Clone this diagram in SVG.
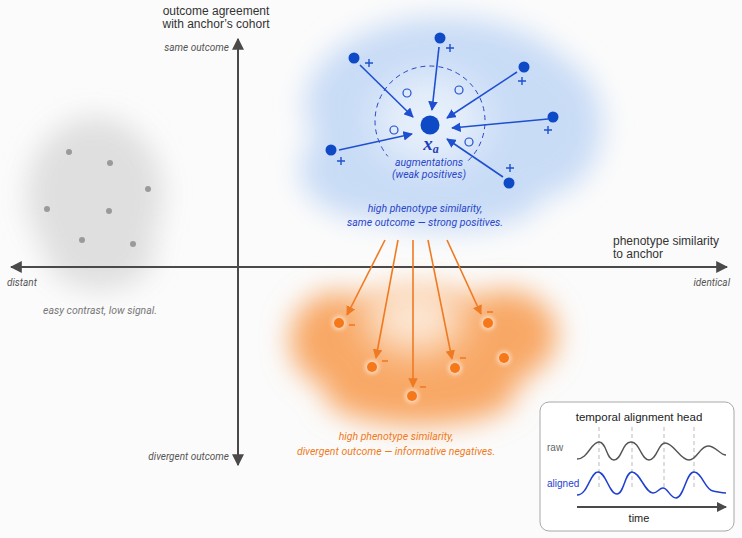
<svg xmlns="http://www.w3.org/2000/svg" width="742" height="538" viewBox="0 0 742 538">
<defs>
<style>
.lbl{font-family:"Liberation Sans",Arial,sans-serif;fill:#333;font-size:12px}
.it{font-family:Roboto,"Liberation Sans",sans-serif;font-style:italic;font-size:10px;fill:#555}
.bt{font-family:Roboto,"Liberation Sans",sans-serif;font-style:italic;font-size:10.5px;fill:#2a46c9}
.ot{font-family:Roboto,"Liberation Sans",sans-serif;font-style:italic;font-size:10.5px;fill:#f07a22}
.ax{stroke:#4a4a4a;stroke-width:2;fill:none}
.ba{stroke:#1f4fd1;stroke-width:1.6;fill:none;marker-end:url(#mb)}
.oa{stroke:#f07a22;stroke-width:1.6;fill:none;marker-end:url(#mo)}
.bd{fill:#0f4ac6}
.od{fill:#f5781a}
.hc{fill:none;stroke:#1f4fd1;stroke-width:1.2}
.pl{stroke:#1f4fd1;stroke-width:1.4}
.mi{stroke:#f07a22;stroke-width:1.6}
.gd{fill:#9a9a9a}
</style>
<marker id="ma" viewBox="0 0 10 10" refX="9" refY="5" markerWidth="6" markerHeight="6" orient="auto-start-reverse" markerUnits="strokeWidth"><path d="M0,0 L10,5 L0,10 z" fill="#4a4a4a"/></marker>
<marker id="mb" viewBox="0 0 10 10" refX="9" refY="5" markerWidth="6" markerHeight="6" orient="auto" markerUnits="strokeWidth"><path d="M0,0 L10,5 L0,10 z" fill="#1f4fd1"/></marker>
<marker id="mo" viewBox="0 0 10 10" refX="9" refY="5" markerWidth="6" markerHeight="6" orient="auto" markerUnits="strokeWidth"><path d="M0,0 L10,5 L0,10 z" fill="#f07a22"/></marker>
<marker id="mt" viewBox="0 0 10 10" refX="9" refY="5" markerWidth="5" markerHeight="5" orient="auto" markerUnits="strokeWidth"><path d="M0,0 L10,5 L0,10 z" fill="#4a4a4a"/></marker>
<filter id="blur" filterUnits="userSpaceOnUse" x="0" y="0" width="742" height="538"><feGaussianBlur stdDeviation="14"/></filter>
<filter id="blur2" filterUnits="userSpaceOnUse" x="0" y="0" width="742" height="538"><feGaussianBlur stdDeviation="18"/></filter>
<filter id="glow" filterUnits="userSpaceOnUse" x="0" y="0" width="742" height="538"><feGaussianBlur stdDeviation="2"/></filter>
</defs>
<rect width="742" height="538" fill="#fbfbfb"/>

<g id="clouds">
<g filter="url(#blur)" fill="#dcdcdc" opacity="0.9">
<ellipse cx="95" cy="195" rx="68" ry="78"/>
<ellipse cx="100" cy="250" rx="55" ry="40"/>
</g>
<g filter="url(#blur)" fill="#c9dcf6">
<ellipse cx="445" cy="105" rx="140" ry="88"/>
<ellipse cx="375" cy="170" rx="75" ry="50"/>
<ellipse cx="540" cy="125" rx="62" ry="72"/>
<ellipse cx="450" cy="200" rx="90" ry="30"/>
</g>
<g filter="url(#blur2)" fill="#eef4fc" opacity="0.8">
<ellipse cx="430" cy="120" rx="55" ry="45"/>
</g>
<g filter="url(#blur)" fill="#f8a866">
<ellipse cx="420" cy="350" rx="120" ry="60"/>
<ellipse cx="338" cy="340" rx="48" ry="48"/>
<ellipse cx="505" cy="335" rx="52" ry="45"/>
<ellipse cx="420" cy="395" rx="95" ry="30"/>
</g>
<g filter="url(#blur2)" fill="#fdeee0" opacity="0.9">
<ellipse cx="415" cy="318" rx="50" ry="35"/>
</g>
</g>

<g id="axes">
<line class="ax" x1="238" y1="465" x2="238" y2="39" marker-end="url(#ma)" marker-start="url(#ma)"/>
<line class="ax" x1="11" y1="267" x2="727" y2="267" marker-end="url(#ma)" marker-start="url(#ma)"/>
<text class="lbl" x="216" y="15" text-anchor="middle">outcome agreement</text>
<text class="lbl" x="216" y="28" text-anchor="middle">with anchor’s cohort</text>
<text class="it" x="229" y="51" text-anchor="end">same outcome</text>
<text class="it" x="229" y="460" text-anchor="end">divergent outcome</text>
<text class="it" x="7" y="286">distant</text>
<text class="it" x="730" y="286" text-anchor="end">identical</text>
<text class="lbl" x="613" y="245">phenotype similarity</text>
<text class="lbl" x="613" y="258">to anchor</text>
</g>

<g id="easy-negatives">
<circle class="gd" cx="69" cy="152" r="3"/>
<circle class="gd" cx="110" cy="163" r="3"/>
<circle class="gd" cx="148" cy="189" r="3"/>
<circle class="gd" cx="47" cy="209" r="3"/>
<circle class="gd" cx="109" cy="211" r="3"/>
<circle class="gd" cx="82" cy="240" r="3"/>
<circle class="gd" cx="133" cy="244" r="3"/>
<text class="it" x="43" y="314" style="fill:#777;font-size:10.5px">easy contrast, low signal.</text>
</g>

<g id="connectors">
<line class="ba" x1="360" y1="65" x2="413" y2="117"/>
<line class="ba" x1="439" y1="47" x2="432" y2="110"/>
<line class="ba" x1="517" y1="72" x2="447" y2="118"/>
<line class="ba" x1="548" y1="119" x2="452" y2="128"/>
<line class="ba" x1="339" y1="150" x2="412" y2="134"/>
<line class="ba" x1="503" y1="177" x2="447" y2="139"/>
<line class="oa" x1="385" y1="240" x2="347" y2="315"/>
<line class="oa" x1="398" y1="240" x2="376" y2="358"/>
<line class="oa" x1="413" y1="240" x2="413" y2="387"/>
<line class="oa" x1="428" y1="240" x2="452" y2="359"/>
<line class="oa" x1="447" y1="240" x2="481" y2="314"/>
</g>

<g id="anchor">
<path d="M468.2,160.6 A55,55 0 1 0 387.9,156.4" fill="none" stroke="#2a46c9" stroke-width="1" stroke-dasharray="5 4"/>
<circle class="bd" cx="430" cy="125" r="9.5"/>
<text x="431" y="150" text-anchor="middle" font-family="'Liberation Serif',serif" font-style="italic" font-weight="bold" font-size="19" fill="#1f3fb8">x<tspan font-size="12" dy="3">a</tspan></text>
<text class="bt" x="429" y="166" text-anchor="middle">augmentations</text>
<text class="bt" x="429" y="178" text-anchor="middle">(weak positives)</text>
</g>

<g id="weak-positives">
<circle class="hc" cx="407" cy="93" r="4"/>
<circle class="hc" cx="459" cy="90" r="4"/>
<circle class="hc" cx="394" cy="130" r="4"/>
<circle class="hc" cx="469" cy="142" r="4"/>
</g>

<g id="strong-positives">
<circle class="bd" cx="354" cy="58" r="5.5"/><path class="pl" d="M365,63h8M369,59v8"/>
<circle class="bd" cx="440" cy="38" r="5.5"/><path class="pl" d="M446,48h8M450,44v8"/>
<circle class="bd" cx="524" cy="67" r="5.5"/><path class="pl" d="M518,81h8M522,77v8"/>
<circle class="bd" cx="553" cy="117" r="5.5"/><path class="pl" d="M544,130h8M548,126v8"/>
<circle class="bd" cx="331" cy="150" r="5.5"/><path class="pl" d="M337,161h8M341,157v8"/>
<circle class="bd" cx="509" cy="183" r="5.5"/><path class="pl" d="M506,168h8M510,164v8"/>
<text class="bt" x="425" y="212" text-anchor="middle">high phenotype similarity,</text>
<text class="bt" x="425" y="226" text-anchor="middle">same outcome — strong positives.</text>
</g>

<g id="hard-negatives">
<g filter="url(#glow)" fill="#fff" opacity="0.6">
<circle cx="339" cy="323" r="7"/><circle cx="372" cy="367" r="7"/><circle cx="412" cy="396" r="7"/><circle cx="455" cy="368" r="7"/><circle cx="488" cy="323" r="7"/><circle cx="504" cy="358" r="7"/>
</g>
<circle class="od" cx="339" cy="323" r="5"/><path class="mi" d="M349,325h6"/>
<circle class="od" cx="372" cy="367" r="5"/><path class="mi" d="M382,361h6"/>
<circle class="od" cx="412" cy="396" r="5"/><path class="mi" d="M420,387h6"/>
<circle class="od" cx="455" cy="368" r="5"/><path class="mi" d="M460,358h6"/>
<circle class="od" cx="488" cy="323" r="5"/><path class="mi" d="M487,312h6"/>
<circle class="od" cx="504" cy="358" r="5"/>
<text class="ot" x="396" y="440" text-anchor="middle">high phenotype similarity,</text>
<text class="ot" x="396" y="455" text-anchor="middle">divergent outcome — informative negatives.</text>
</g>

<g id="temporal-head">
<rect x="540" y="402" width="194" height="129" rx="9" fill="#fff" stroke="#a8a8a8" stroke-width="1"/>
<text class="lbl" x="639" y="421" text-anchor="middle" style="font-size:11.5px;fill:#222">temporal alignment head</text>
<text x="547" y="451" font-family="'Liberation Sans',sans-serif" font-size="10" fill="#666">raw</text>
<text x="547" y="487" font-family="'Liberation Sans',sans-serif" font-size="10" fill="#1f3fd0">aligned</text>
<g stroke="#bbb" stroke-width="1" stroke-dasharray="4 3">
<line x1="599" y1="427" x2="599" y2="490"/>
<line x1="632" y1="427" x2="632" y2="490"/>
<line x1="664" y1="427" x2="664" y2="490"/>
<line x1="694" y1="427" x2="694" y2="490"/>
</g>
<path d="M577,459 C588,459 591,442 599,442 C607,442 606,460 614,460 C622,460 622,442 631,442 C640,442 641,460 649,460 C657,460 658,443 665,443 C674,443 680,460 689,460 C697,460 700,446 708,446 C716,446 720,455 726,455" fill="none" stroke="#555" stroke-width="1.4"/>
<path d="M577,495 C588,495 590,472 598,472 C606,472 609,494 617,494 C624,494 625,472 632,472 C640,472 645,493 653,493 C658,493 659,488 663,488 C668,488 670,498 676,498 C684,498 686,472 694,472 C702,472 705,490 713,491 C719,492 722,493 726,493" fill="none" stroke="#1f3fd0" stroke-width="1.5"/>
<line x1="577" y1="507" x2="726" y2="507" stroke="#4a4a4a" stroke-width="2" marker-end="url(#mt)"/>
<text x="639" y="522" text-anchor="middle" font-family="'Liberation Sans',sans-serif" font-size="11" fill="#222">time</text>
</g>
</svg>
